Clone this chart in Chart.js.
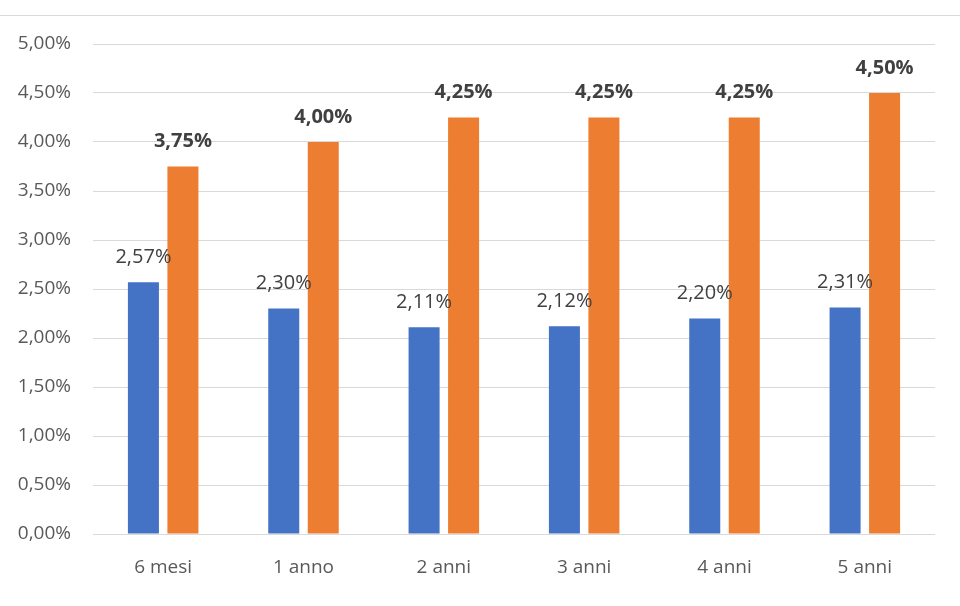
<!DOCTYPE html>
<html><head><meta charset="utf-8">
<script src="https://cdn.jsdelivr.net/npm/chart.js@4/dist/chart.umd.min.js"></script>
<style>html,body{margin:0;padding:0;background:#fff}#wrap{width:960px;height:606px;position:relative}</style>
</head><body><div id="wrap"><canvas id="c" width="960" height="606"></canvas></div>
<script>
const categories = ['6 mesi','1 anno','2 anni','3 anni','4 anni','5 anni'];
const seriesBlue = [2.57, 2.30, 2.11, 2.12, 2.20, 2.31];
const seriesOrange = [3.75, 4.00, 4.25, 4.25, 4.25, 4.50];
const FONT = "'Open Sans', sans-serif";
const fmt = v => v.toFixed(2).replace('.', ',') + '%';

const labelPlugin = {
  id: 'valueLabels',
  afterDatasetsDraw(chart) {
    const ctx = chart.ctx;
    ctx.save();
    ctx.textAlign = 'center';
    ctx.textBaseline = 'middle';
    chart.data.datasets.forEach((ds, i) => {
      const meta = chart.getDatasetMeta(i);
      ctx.font = (i === 1 ? 'bold ' : '') + '20px ' + FONT;
      ctx.fillStyle = '#404040';
      meta.data.forEach((el, j) => {
        ctx.fillText(fmt(ds.data[j]), el.x, el.y - 25);
      });
    });
    ctx.restore();
  }
};
const topLine = {
  id: 'topLine',
  beforeDraw(chart) {
    const ctx = chart.ctx;
    ctx.save();
    ctx.strokeStyle = '#d9d9d9';
    ctx.lineWidth = 1;
    ctx.beginPath();
    ctx.moveTo(0, 15.5);
    ctx.lineTo(960, 15.5);
    ctx.stroke();
    ctx.restore();
  }
};

new Chart(document.getElementById('c'), {
  type: 'bar',
  data: {
    labels: categories,
    datasets: [
      {data: seriesBlue, backgroundColor: '#4472C4', barPercentage: 0.785, categoryPercentage: 0.563},
      {data: seriesOrange, backgroundColor: '#ED7D31', barPercentage: 0.785, categoryPercentage: 0.563}
    ]
  },
  options: {
    responsive: false,
    animation: false,
    layout: {padding: {top: 44, right: 25, left: 0, bottom: 0}},
    plugins: {legend: {display: false}, tooltip: {enabled: false}},
    scales: {
      x: {
        grid: {display: false},
        border: {display: false},
        ticks: {color: '#595959', font: {family: FONT, size: 19}, padding: 14},
        afterFit(s) { s.height = 72; }
      },
      y: {
        min: 0, max: 5,
        ticks: {stepSize: 0.5, color: '#595959', font: {family: FONT, size: 19}, padding: 22,
          callback: v => fmt(v)},
        grid: {color: '#d9d9d9', drawTicks: false},
        border: {display: false},
        afterFit(s) { s.width = 93; }
      }
    }
  },
  plugins: [labelPlugin, topLine]
});
</script></body></html>
